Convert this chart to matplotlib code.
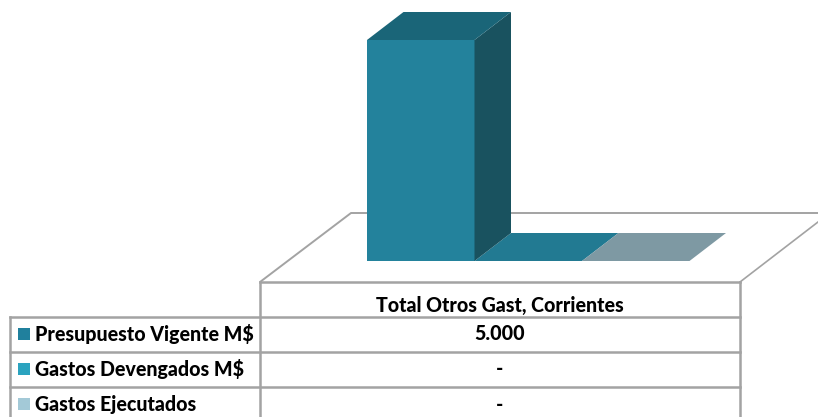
#!/usr/bin/env python3
# -*- coding: utf-8 -*-
import matplotlib
matplotlib.use('Agg')
import matplotlib.pyplot as plt
from matplotlib.patches import Polygon, Rectangle

# Our data
category = 'Total Otros Gast, Corrientes'
series_names = ['Presupuesto Vigente M$', 'Gastos Devengados M$', 'Gastos Ejecutados']
series_values = [5000, 0, 0]

legend_colors = ['#20809D', '#2BA3BF', '#A3C9D7']
front_colors = ['#23829C', '#2BA3BF', '#A3C9D7']
top_colors = ['#1A6578', '#227A92', '#7E99A3']
side_colors = ['#19525F', '#19525F', '#6F8A94']

plt.rcParams['font.family'] = ['Lato', 'DejaVu Sans']
GRID = '#A3A3A3'
TEXT_WEIGHT = 900
TEXT_SIZE = 14.1

fig = plt.figure(figsize=(8.18, 4.17), dpi=100)
ax = fig.add_axes([0, 0, 1, 1])
ax.set_xlim(0, 818)
ax.set_ylim(417, 0)
ax.axis('off')

# 3D floor outline
ax.plot([260, 351, 818], [282, 213, 213], color=GRID, lw=1.4, solid_capstyle='butt')
ax.plot([740, 818], [282, 222], color=GRID, lw=1.2)

# Bars, pixels per unit of value on the vertical scale
base_y = 261
scale = 221 / 5000
bar_w = 107.5
dx, dy = 36.5, -28
for i, val in enumerate(series_values):
    x0 = 367 + i * bar_w
    x1 = x0 + bar_w
    top = base_y - val * scale
    if val > 0:
        ax.add_patch(Rectangle((x0, top), bar_w, val * scale, fc=front_colors[i], ec='none', zorder=3))
        ax.add_patch(Polygon([(x1, top), (x1 + dx, top + dy), (x1 + dx, base_y + dy), (x1, base_y)],
                             fc=side_colors[i], ec='none', zorder=4))
    ax.add_patch(Polygon([(x0, top), (x0 + dx, top + dy), (x1 + dx, top + dy), (x1, top)],
                         fc=top_colors[i], ec='none', zorder=2 if val == 0 else 4))

# Data table
rows_y = [282, 317, 352, 387]
ax.plot([260, 740], [rows_y[0], rows_y[0]], color=GRID, lw=1.8)
for y in rows_y[1:]:
    ax.plot([10, 740], [y, y], color=GRID, lw=1.8)
ax.plot([10, 10], [317, 417], color=GRID, lw=1.8)
ax.plot([260, 260], [282, 417], color=GRID, lw=1.8)
ax.plot([740, 740], [282, 417], color=GRID, lw=1.8)

ax.text(500, 305, category, ha='center', va='center', fontsize=TEXT_SIZE, fontweight=TEXT_WEIGHT, color='black')
for i, name in enumerate(series_names):
    y = 334 + i * 35
    ax.add_patch(Rectangle((18, y - 6), 12, 12, fc=legend_colors[i], ec='none'))
    ax.text(35, y, name, ha='left', va='center', fontsize=TEXT_SIZE, fontweight=TEXT_WEIGHT, color='black')
    # zero values show as a dash
    val = series_values[i]
    label = f'{val:,}'.replace(',', '.') if val else '-'
    ax.text(500, y, label, ha='center', va='center', fontsize=TEXT_SIZE, fontweight=TEXT_WEIGHT, color='black')

plt.savefig('out.png', dpi=100)
